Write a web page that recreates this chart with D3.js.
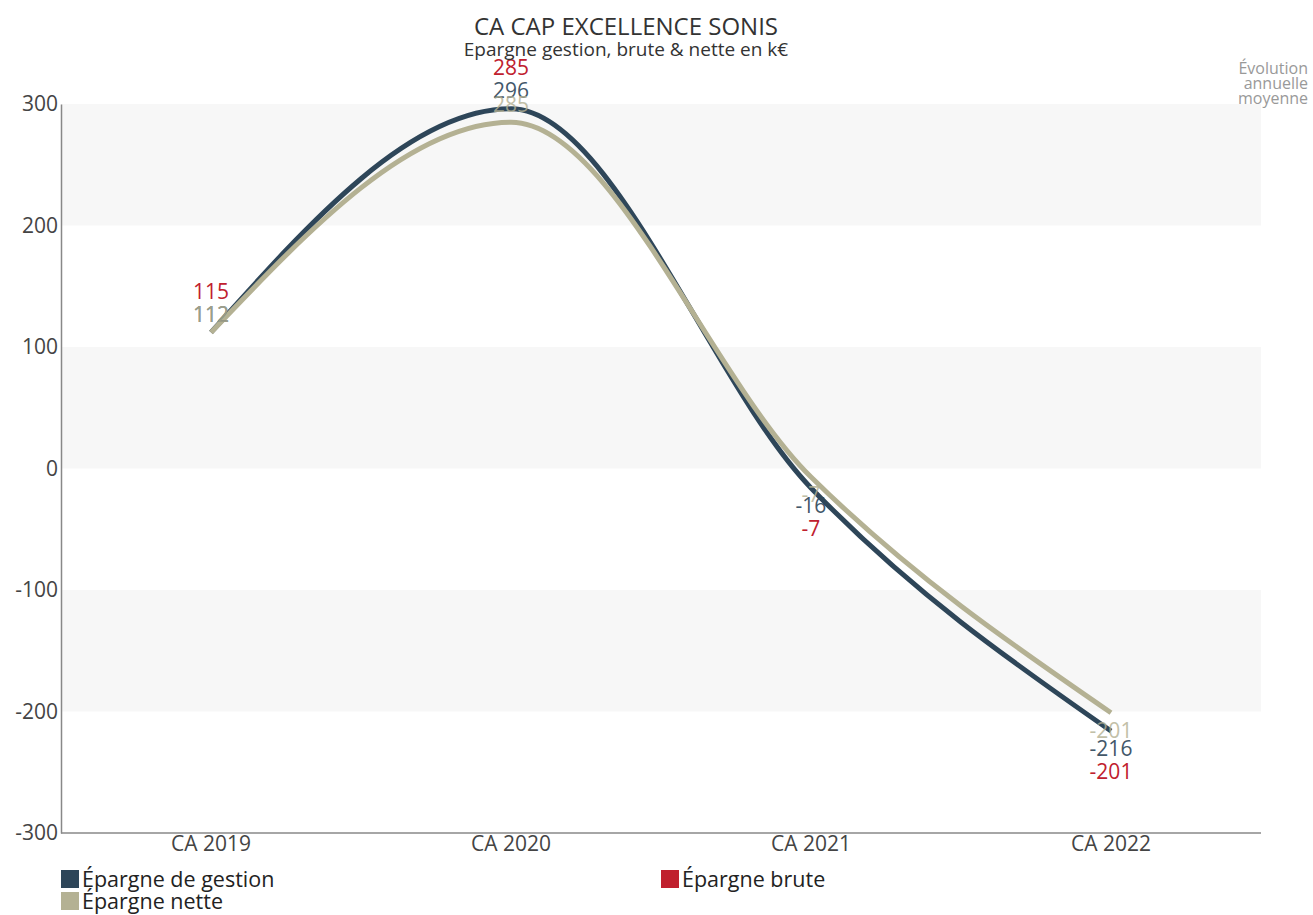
<!DOCTYPE html>
<html><head><meta charset="utf-8">
<script src="https://cdn.jsdelivr.net/npm/d3@7"></script>
<style>
body{margin:0;background:#fff;}
svg text{font-family:"Open Sans","Noto Sans",sans-serif;}
</style></head>
<body><svg id="c" width="1313" height="915"></svg>
<script>
const categories = ["CA 2019","CA 2020","CA 2021","CA 2022"];
const gestion = [112, 296, -16, -216];
const brute = [115, 285, -7, -201];
const nette = [112, 285, -7, -201];
const yTicks = [-300,-200,-100,0,100,200,300];
const seriesNames = ["Épargne de gestion","Épargne brute","Épargne nette"];
const colors = {gestion:"#2e4659", brute:"#c0202e", nette:"#b4b193"};

const svg = d3.select("#c");
const W=1313,H=915;
const m={l:61,r:52,t:104,b:82};
const x = d3.scaleBand().domain(categories).range([m.l,W-m.r]);
const y = d3.scaleLinear().domain([-300,300]).range([H-m.b,m.t]);
const cx = c=>x(c)+x.bandwidth()/2;

// bands
const bandPairs=[[200,300],[0,100],[-200,-100]];
svg.append("g").selectAll("rect").data(bandPairs).join("rect")
 .attr("x",m.l).attr("width",W-m.r-m.l)
 .attr("y",d=>y(d[1])).attr("height",d=>y(d[0])-y(d[1]))
 .attr("fill","#f7f7f7");

// axes
const ya = svg.append("g").attr("transform",`translate(${m.l},0)`)
 .call(d3.axisLeft(y).tickValues(yTicks).tickFormat(d=>String(d)).tickSize(0).tickPadding(3));
ya.select(".domain").attr("stroke","#888").attr("stroke-width",1.5);
ya.selectAll("text").attr("font-size",21).attr("fill","#444");

const xa = svg.append("g").attr("transform",`translate(0,${y(-300)})`)
 .call(d3.axisBottom(x).tickSize(0).tickPadding(3));
xa.select(".domain").attr("stroke","#888").attr("stroke-width",1.5).attr("d",`M${m.l},0H${W-m.r}`);
xa.selectAll("text").attr("font-size",21).attr("fill","#444");

// lines
const line = d3.line().x((d,i)=>cx(categories[i])).y(d=>y(d)).curve(d3.curveMonotoneX);
const data=[["gestion",gestion],["nette",nette]];
svg.append("g").selectAll("path").data(data).join("path")
 .attr("d",d=>line(d[1])).attr("fill","none")
 .attr("stroke",d=>colors[d[0]]).attr("stroke-width",5).attr("stroke-linecap","butt");

// labels
const lg = svg.append("g").attr("font-size",21).attr("text-anchor","middle");
function off(v){return v>=0?-18:18;}
categories.forEach((c,i)=>{
  const gy = y(gestion[i])+off(gestion[i]);
  lg.append("text").attr("x",cx(c)).attr("y",gy).attr("dy","0.35em")
    .attr("fill",colors.gestion).attr("opacity",0.9).text(gestion[i]);
  lg.append("text").attr("x",cx(c)).attr("y",y(nette[i])+off(nette[i])).attr("dy","0.35em")
    .attr("fill",colors.nette).attr("opacity",0.8).text(nette[i]);
  lg.append("text").attr("x",cx(c)).attr("y",gy+(gestion[i]>=0?-23:23)).attr("dy","0.35em")
    .attr("fill",colors.brute).text(brute[i]);
});

// title
svg.append("text").attr("x",626).attr("y",35).attr("text-anchor","middle")
 .attr("font-size",24).attr("fill","#333").text("CA CAP EXCELLENCE SONIS");
svg.append("text").attr("x",626).attr("y",56).attr("text-anchor","middle")
 .attr("font-size",19).attr("fill","#333").text("Epargne gestion, brute & nette en k€");

// top-right note
const note = svg.append("text").attr("text-anchor","end").attr("font-size",16).attr("fill","#999");
["Évolution","annuelle","moyenne"].forEach((t,i)=>note.append("tspan").attr("x",1308).attr("y",74+i*15).text(t));

// legend
const legend=[{n:seriesNames[0],c:colors.gestion,x:61,y:879},{n:seriesNames[1],c:colors.brute,x:661,y:879},{n:seriesNames[2],c:colors.nette,x:61,y:901}];
const lgd = svg.append("g").selectAll("g").data(legend).join("g").attr("transform",d=>`translate(${d.x},${d.y})`);
lgd.append("rect").attr("x",0).attr("y",-9).attr("width",18).attr("height",18).attr("fill",d=>d.c);
lgd.append("text").attr("x",21).attr("dy","0.35em").attr("font-size",21.5).attr("fill","#222").text(d=>d.n);
</script></body></html>
